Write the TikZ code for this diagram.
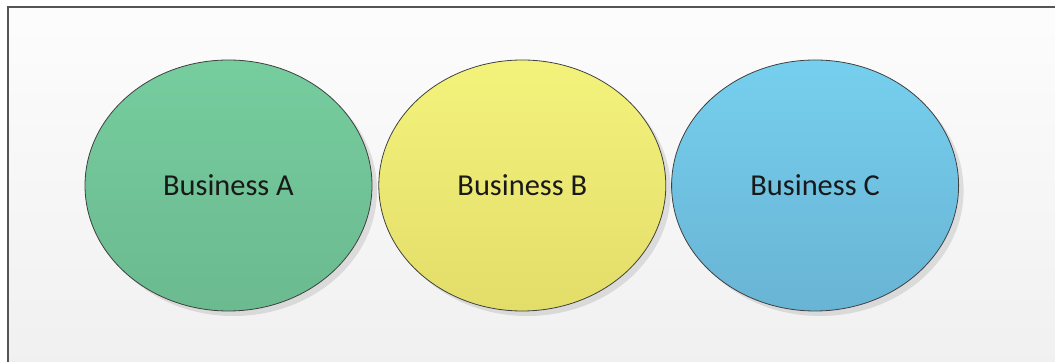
\documentclass[tikz,border=0pt]{standalone}
\usepackage{fontspec}
\setmainfont{Carlito}
\usepackage{tikz}
\usetikzlibrary{positioning,shadows,shapes.geometric}

\definecolor{frameline}{HTML}{555555}
\definecolor{greenTop}{HTML}{76CD9E}
\definecolor{greenBot}{HTML}{6BBA90}
\definecolor{yellowTop}{HTML}{F3F37C}
\definecolor{yellowBot}{HTML}{E3DD69}
\definecolor{blueTop}{HTML}{76CFEE}
\definecolor{blueBot}{HTML}{69B4D5}

\begin{document}
\begin{tikzpicture}[
    x=0.5pt, y=0.5pt,
    frame/.style={draw=frameline, line width=1pt},
    biz/.style={ellipse, draw=black!75, line width=0.4pt, inner sep=0pt,
        minimum width=143.5pt, minimum height=125.5pt,
        font=\fontsize{15.2}{17}\selectfont, text=black!90,
        drop shadow={shadow xshift=2.5pt, shadow yshift=-2.5pt, fill=black, opacity=0.1}},
    bizA/.style={biz, top color=greenTop, bottom color=greenBot},
    bizB/.style={biz, top color=yellowTop, bottom color=yellowBot},
    bizC/.style={biz, top color=blueTop, bottom color=blueBot}
]

\useasboundingbox (0,0) rectangle (1055,-362);
\clip (0,0) rectangle (1055,-362);

% panel behind the circles
\shade[top color=white!99!black, bottom color=black!6] (7.5,-7.5) rectangle (1070,-380);
\draw[frame] (7.5,-380) -- (7.5,-7.5) -- (1070,-7.5);

\node[bizA] (bizA) at (228.5,-185.5) {Business A};
\node[bizB, right=3pt of bizA] (bizB) {Business B};
\node[bizC, right=2.5pt of bizB] (bizC) {Business C};

\end{tikzpicture}
\end{document}
